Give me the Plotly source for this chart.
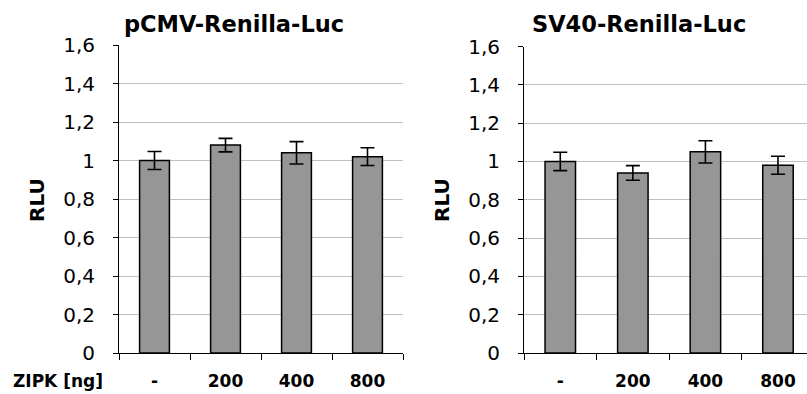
import plotly.graph_objects as go

W, H = 807, 394

categories = ["-", "200", "400", "800"]
cmv_values = [1.00, 1.08, 1.04, 1.02]
cmv_errors = [0.047, 0.035, 0.058, 0.046]
sv40_values = [1.00, 0.94, 1.05, 0.98]
sv40_errors = [0.048, 0.038, 0.058, 0.047]
y_tickvals = [0, 0.2, 0.4, 0.6, 0.8, 1.0, 1.2, 1.4, 1.6]
y_ticktext = ["0", "0,2", "0,4", "0,6", "0,8", "1", "1,2", "1,4", "1,6"]
titles = ["pCMV-Renilla-Luc", "SV40-Renilla-Luc"]
y_title = "RLU"
x_label = "ZIPK [ng]"

BAR_FILL = "#969696"
GRID = "#c0c0c0"
FONT = "DejaVu Sans"

def px_x(p):
    return p / W

def px_y(p):
    return 1 - p / H

fig = go.Figure()
for i, (vals, errs) in enumerate([(cmv_values, cmv_errors), (sv40_values, sv40_errors)]):
    fig.add_trace(go.Bar(
        x=categories, y=vals,
        xaxis="x" if i == 0 else "x2",
        yaxis="y" if i == 0 else "y2",
        width=0.42,
        marker=dict(color=BAR_FILL, line=dict(color="#000000", width=1.5)),
        error_y=dict(type="data", array=errs, visible=True, color="#000000",
                     thickness=1.6, width=7),
        showlegend=False,
        hoverinfo="skip",
    ))

xcommon = dict(
    type="category", showline=True, linecolor="#000000", linewidth=1,
    ticks="outside", tickson="boundaries", ticklen=6, tickcolor="#000000",
    tickfont=dict(family=FONT, size=17, color="#000000", weight="bold"),
    showgrid=False, zeroline=False, ticklabelstandoff=13, automargin=False,
)
ycommon = dict(
    range=[0, 1.6], tickvals=y_tickvals, ticktext=y_ticktext,
    showline=True, linecolor="#000000", linewidth=1,
    ticks="outside", ticklen=5, tickcolor="#000000",
    tickfont=dict(family=FONT, size=20, color="#000000"),
    showgrid=True, gridcolor=GRID, gridwidth=1, zeroline=False,
    ticklabelstandoff=14, automargin=False,
)

fig.update_layout(
    width=W, height=H,
    margin=dict(l=0, r=0, t=0, b=0, autoexpand=False),
    paper_bgcolor="white", plot_bgcolor="white",
    separators=",.",
    bargap=0.58,
    xaxis=dict(domain=[px_x(119), px_x(403)], range=[-0.5, 3.5], anchor="y", **xcommon),
    xaxis2=dict(domain=[px_x(524), 1.0], range=[-0.5, 3.4], anchor="y2", **xcommon),
    yaxis=dict(domain=[px_y(353), px_y(45)], anchor="x", **ycommon),
    yaxis2=dict(domain=[px_y(353), px_y(46.5)], anchor="x2", **ycommon),
)

annotations = [
    dict(text="<b>%s</b>" % titles[0], x=px_x(233.5), y=px_y(24), xref="paper", yref="paper",
         xanchor="center", yanchor="middle", showarrow=False,
         font=dict(family=FONT, size=22.5, color="#000000")),
    dict(text="<b>%s</b>" % titles[1], x=px_x(638.5), y=px_y(24), xref="paper", yref="paper",
         xanchor="center", yanchor="middle", showarrow=False,
         font=dict(family=FONT, size=22.5, color="#000000")),
    dict(text="<b>%s</b>" % y_title, x=px_x(37), y=px_y(200), xref="paper", yref="paper",
         xanchor="center", yanchor="middle", showarrow=False, textangle=-90,
         font=dict(family=FONT, size=20, color="#000000")),
    dict(text="<b>%s</b>" % y_title, x=px_x(442), y=px_y(200), xref="paper", yref="paper",
         xanchor="center", yanchor="middle", showarrow=False, textangle=-90,
         font=dict(family=FONT, size=20, color="#000000")),
    dict(text="<b>%s</b>" % x_label, x=px_x(57.5), y=px_y(381), xref="paper", yref="paper",
         xanchor="center", yanchor="middle", showarrow=False,
         font=dict(family=FONT, size=17, color="#000000")),
]
fig.update_layout(annotations=annotations)

fig.write_html("out.html", config={"displayModeBar": False})
